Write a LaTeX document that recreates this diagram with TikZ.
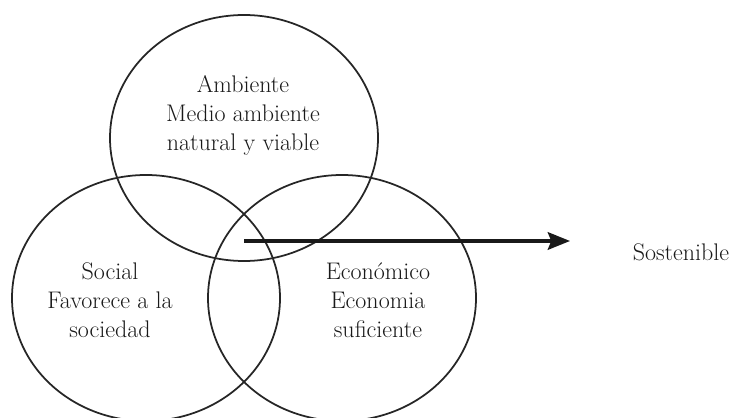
\documentclass[tikz,border=0pt]{standalone}
\usepackage{tikz}
\usetikzlibrary{arrows.meta}

\begin{document}
\begin{tikzpicture}[scale=0.6]
		\tikzset{ring/.style={black!85, line width=1.5pt},
			lbl/.style={align=center, text=black!90, font=\fontsize{20.5}{24.75}\selectfont}}
		\useasboundingbox (0,0) rectangle (37,20.85);
		\draw[ring] (12.2,13.95) ellipse (6.7 and 6.15);
		\node[lbl] (amb) at (12.15,15.1) {Ambiente\\Medio ambiente\\natural y viable};
		\draw[ring] (7.3,5.95) ellipse (6.7 and 6.15);
		\node[lbl] (soc) at (5.5,5.85) {Social\\Favorece a la\\sociedad};
		\draw[ring] (17.1,5.95) ellipse (6.7 and 6.15);
		\node[lbl] (eco) at (18.9,5.85) {Econ\'omico\\Economia\\suficiente};
		\node[lbl] (sos) at (34.05,8.25) {Sostenible};
		\coordinate (start) at (12.2,8.8);
		\coordinate (tip) at (28.5,8.8);
		\draw[black!90, line width=2.9pt, -{Stealth[length=19pt, width=15pt, inset=3pt]}] (start) -- (tip);
	\end{tikzpicture}
\end{document}
